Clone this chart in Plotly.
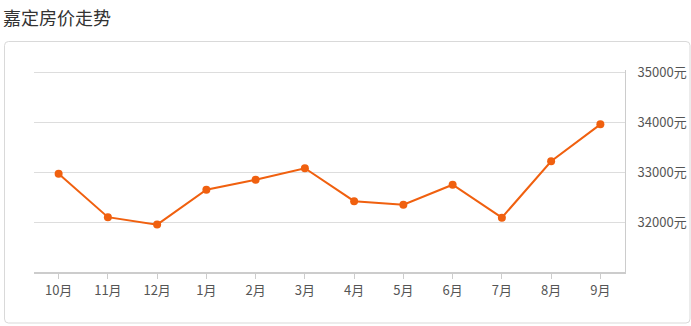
import plotly.graph_objects as go

months = ["10月", "11月", "12月", "1月", "2月", "3月", "4月", "5月", "6月", "7月", "8月", "9月"]
prices = [32970, 32100, 31950, 32650, 32850, 33080, 32420, 32350, 32750, 32090, 33220, 33960]
ytick_vals = [32000, 33000, 34000, 35000]
ytick_text = [f"{v}元" for v in ytick_vals]
y_range = [31000, 35050]

W, H = 691, 326
L, R, T, B = 34, 66, 70, 54
pw, ph = W - L - R, H - T - B

def px(x):
    return (x - L) / pw

def py(y):
    return (H - B - y) / ph

FONT = "Noto Sans CJK SC, Microsoft YaHei, sans-serif"

fig = go.Figure()
fig.add_trace(go.Scatter(
    x=months, y=prices, mode="lines+markers",
    line=dict(color="#f0600f", width=2),
    marker=dict(color="#f0600f", size=8),
    hoverinfo="x+y",
    cliponaxis=False,
))

# rounded outer box
x0, x1, y0, y1 = px(4.5), px(690), py(41.5), py(323)
rx, ry = 4 / pw, 4 / ph
path = (f"M {x0+rx},{y0} L {x1-rx},{y0} Q {x1},{y0} {x1},{y0-ry} "
        f"L {x1},{y1+ry} Q {x1},{y1} {x1-rx},{y1} L {x0+rx},{y1} "
        f"Q {x0},{y1} {x0},{y1+ry} L {x0},{y0-ry} Q {x0},{y0} {x0+rx},{y0} Z")
fig.add_shape(type="path", path=path, xref="paper", yref="paper",
              line=dict(color="#d9d9d9", width=1), layer="below")

fig.add_annotation(text="嘉定房价走势", xref="paper", yref="paper",
                   x=px(1), y=py(2), xanchor="left", yanchor="top",
                   showarrow=False, font=dict(family=FONT, size=18, color="#333333"))

fig.update_layout(
    width=W, height=H,
    margin=dict(l=L, r=R, t=T, b=B),
    paper_bgcolor="white", plot_bgcolor="white",
    showlegend=False,
    font=dict(family=FONT, size=13, color="#555555"),
    xaxis=dict(
        type="category", range=[-0.5, 11.5], automargin=False,
        showgrid=False, showline=True, linecolor="#cccccc", linewidth=2,
        ticks="outside", ticklen=5, tickcolor="#cccccc",
        tickfont=dict(size=13, color="#555555"), zeroline=False,
        fixedrange=True,
    ),
    yaxis=dict(
        side="right", range=y_range, automargin=False,
        tickvals=ytick_vals, ticktext=ytick_text,
        showgrid=True, gridcolor="#dddddd", gridwidth=1,
        showline=True, linecolor="#cccccc", linewidth=1,
        mirror=False, zeroline=False, ticks="",
        ticklabelstandoff=9,
        tickfont=dict(size=13, color="#555555"),
        fixedrange=True,
    ),
)

fig.write_html("out.html")
